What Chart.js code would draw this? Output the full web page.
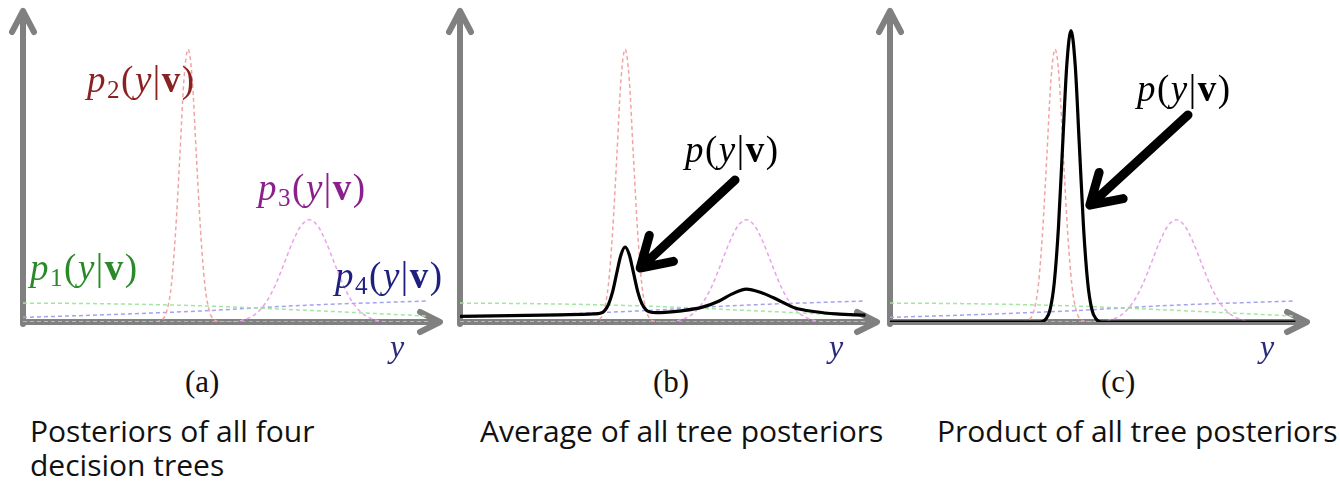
<!DOCTYPE html>
<html>
<head>
  <title>Decision forest posteriors</title>
  <script src="https://cdn.jsdelivr.net/npm/chart.js@4/dist/chart.umd.min.js"></script>
  <style>
    body { margin: 0; background: #fff; }
    #wrap { position: relative; width: 1340px; height: 483px; overflow: hidden; }
    canvas { position: absolute; top: 0; }
    .m { position: absolute; font-family: "Liberation Serif", serif; font-size: 37px; letter-spacing: 1.5px; white-space: nowrap; line-height: 1; }
    .m i { font-style: italic; }
    .m b { font-weight: bold; }
    .m sub { font-size: 0.68em; vertical-align: -0.25em; line-height: 0; }
    .tag { position: absolute; font-family: "Liberation Serif", serif; font-size: 31px; line-height: 1; color: #111; }
    .cap { position: absolute; font-family: "Open Sans", sans-serif; font-size: 30px; line-height: 34px; color: #111; white-space: nowrap; }
  </style>
</head>
<body>
<div id="wrap">
  <canvas id="chartA" width="448" height="340" style="left:8px"></canvas>
  <canvas id="chartB" width="448" height="340" style="left:445px"></canvas>
  <canvas id="chartC" width="448" height="340" style="left:875px"></canvas>

  <div class="m" style="left:87px;top:61px;color:#8b2222"><i>p</i><sub>2</sub>(<i>y</i>|<b>v</b>)</div>
  <div class="m" style="left:258px;top:169px;color:#8b1f8b"><i>p</i><sub>3</sub>(<i>y</i>|<b>v</b>)</div>
  <div class="m" style="left:30px;top:249px;color:#2a8a2a"><i>p</i><sub>1</sub>(<i>y</i>|<b>v</b>)</div>
  <div class="m" style="left:335px;top:257px;color:#1f1f80"><i>p</i><sub>4</sub>(<i>y</i>|<b>v</b>)</div>
  <div class="m" style="left:685px;top:131px;color:#000"><i>p</i>(<i>y</i>|<b>v</b>)</div>
  <div class="m" style="left:1137px;top:70px;color:#000"><i>p</i>(<i>y</i>|<b>v</b>)</div>

  <div class="m" style="left:390px;top:330px;color:#2b2b7a;font-size:32px"><i>y</i></div>
  <div class="m" style="left:829px;top:330px;color:#2b2b7a;font-size:32px"><i>y</i></div>
  <div class="m" style="left:1260px;top:330px;color:#2b2b7a;font-size:32px"><i>y</i></div>

  <div class="tag" style="left:185px;top:366px">(a)</div>
  <div class="tag" style="left:653px;top:366px">(b)</div>
  <div class="tag" style="left:1101px;top:366px">(c)</div>

  <div class="cap" style="left:30px;top:414px">Posteriors of all four<br>decision trees</div>
  <div class="cap" style="left:480px;top:414px">Average of all tree posteriors</div>
  <div class="cap" style="left:937px;top:414px">Product of all tree posteriors</div>
</div>

<script>
  // x: position along the horizontal axis (0-100), y: height on the vertical axis (0-100)
  const p1X = [0, 19, 43, 66, 97];
  const p1Y = [6.1, 5.9, 5.2, 3.9, 1.9];

  const p2X = [0, 31, 33.5, 34.5, 35.5, 36.5, 37.5, 38.5, 39.5, 40.5, 41.5, 42.5, 43.5, 44.5, 45.5, 48, 97];
  const p2Y = [0, 0, 1, 4, 12, 29, 53, 78, 88, 78, 53, 29, 12, 4, 1, 0, 0];

  const p3X = [0, 50, 52.5, 54.5, 56.5, 58.5, 60.5, 62.5, 64.5, 66.5, 68.5, 70.5, 72.5, 74.5, 76.5, 78.5, 80.5, 82.5, 84.5, 87, 97];
  const p3Y = [0, 0, 0.6, 1.6, 3.6, 7.1, 12.3, 19, 25.8, 31, 33, 31, 25.8, 19, 12.3, 7.1, 3.6, 1.6, 0.6, 0, 0];

  const p4X = [0, 19, 43, 66, 97];
  const p4Y = [1.5, 2.3, 3.6, 5.3, 6.8];

  // average of the four trees
  const avgX = [0, 24, 32, 33.5, 34.5, 35.5, 36.5, 37.5, 38.5, 39.5, 40.5, 41.5, 42.5, 43.5, 44.5, 45.5, 47, 49, 53, 58, 62, 65, 68.5, 72, 75, 77, 80, 85, 90, 97];
  const avgY = [1.8, 2.3, 2.6, 2.8, 3.5, 5.6, 9.7, 15.8, 21.6, 24.2, 21.7, 15.9, 9.9, 5.9, 3.9, 3.2, 3.0, 3.1, 3.6, 4.8, 6.8, 9.0, 10.6, 9.5, 7.8, 6.5, 4.6, 3.3, 2.6, 2.2];

  // product of the four trees
  const prodX = [0, 36, 37.3, 38.3, 39.3, 40.3, 41.3, 42.3, 43.3, 44.3, 45.3, 46.3, 47.3, 48.3, 49.3, 50.5, 97];
  const prodY = [0, 0, 1, 4, 12.7, 30.5, 57, 83, 94, 83, 57, 30.5, 12.7, 4, 1, 0, 0];

  const pts = (xs, ys) => xs.map((x, i) => ({ x: x, y: ys[i] }));

  const faint = (xs, ys, color) => ({
    data: pts(xs, ys),
    borderColor: color,
    borderWidth: 1.5,
    borderDash: [4, 3],
    pointRadius: 0,
    fill: false,
    cubicInterpolationMode: 'monotone',
  });

  const solid = (xs, ys) => ({
    data: pts(xs, ys),
    borderColor: '#000',
    borderWidth: 3.2,
    pointRadius: 0,
    fill: false,
    cubicInterpolationMode: 'monotone',
  });

  const trees = () => [
    faint(p2X, p2Y, '#f3a3a3'),
    faint(p3X, p3Y, '#eaa2ea'),
    faint(p1X, p1Y, '#a3e6a3'),
    faint(p4X, p4Y, '#a3a3ee'),
  ];

  // grey axes with arrow heads
  const axesPlugin = {
    id: 'axes',
    beforeDatasetsDraw(chart) {
      const ctx = chart.ctx, a = chart.chartArea;
      ctx.save();
      ctx.strokeStyle = '#808080';
      ctx.lineWidth = 6;
      ctx.lineCap = 'round';
      ctx.lineJoin = 'round';
      ctx.beginPath();
      ctx.moveTo(a.left, a.bottom + 2);
      ctx.lineTo(a.left, 11);
      ctx.moveTo(a.left, a.bottom);
      ctx.lineTo(a.right - 2, a.bottom);
      ctx.moveTo(a.left - 11, 32);
      ctx.lineTo(a.left, 11);
      ctx.lineTo(a.left + 11, 32);
      ctx.moveTo(a.right - 21, a.bottom - 10);
      ctx.lineTo(a.right - 1, a.bottom);
      ctx.lineTo(a.right - 21, a.bottom + 10);
      ctx.stroke();
      ctx.restore();
    }
  };

  // black pointer arrow next to p(y|v)
  const pointerPlugin = {
    id: 'pointer',
    afterDatasetsDraw(chart, args, opts) {
      if (!opts.from) return;
      const ctx = chart.ctx, xs = chart.scales.x, ys = chart.scales.y;
      const x0 = xs.getPixelForValue(opts.from[0]), y0 = ys.getPixelForValue(opts.from[1]);
      const x1 = xs.getPixelForValue(opts.to[0]), y1 = ys.getPixelForValue(opts.to[1]);
      const ang = Math.atan2(y0 - y1, x0 - x1);
      const len = 34, spread = 0.55;
      ctx.save();
      ctx.strokeStyle = '#000';
      ctx.lineWidth = 9;
      ctx.lineCap = 'round';
      ctx.lineJoin = 'round';
      ctx.beginPath();
      ctx.moveTo(x0, y0);
      ctx.lineTo(x1 + 3 * Math.cos(ang), y1 + 3 * Math.sin(ang));
      ctx.moveTo(x1 + len * Math.cos(ang - spread), y1 + len * Math.sin(ang - spread));
      ctx.lineTo(x1, y1);
      ctx.lineTo(x1 + len * Math.cos(ang + spread), y1 + len * Math.sin(ang + spread));
      ctx.stroke();
      ctx.restore();
    }
  };

  function makePanel(id, datasets, pointer) {
    return new Chart(document.getElementById(id), {
      type: 'line',
      data: { datasets: datasets },
      options: {
        responsive: false,
        animation: false,
        events: [],
        layout: { padding: { left: 15, right: 15, top: 12, bottom: 18 } },
        scales: {
          x: { type: 'linear', min: 0, max: 100, display: false },
          y: { min: 0, max: 100, display: false },
        },
        plugins: {
          legend: { display: false },
          tooltip: { enabled: false },
          pointer: pointer || {},
        },
      },
      plugins: [axesPlugin, pointerPlugin],
    });
  }

  makePanel('chartA', trees());
  makePanel('chartB', [solid(avgX, avgY)].concat(trees()), { from: [65.8, 45.8], to: [43.1, 17.4] });
  makePanel('chartC', [solid(prodX, prodY)].concat(trees()), { from: [71.3, 66.8], to: [47.8, 37.7] });
</script>
</body>
</html>
